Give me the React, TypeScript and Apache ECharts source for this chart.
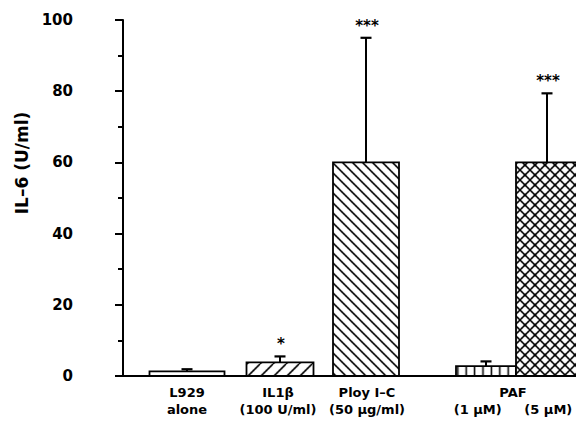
import React, { useEffect, useRef } from "react";
import * as echarts from "echarts";

// ---- data ----
const categories = ["L929 alone", "IL1β (100 U/ml)", "Ploy I–C (50 µg/ml)", "PAF (1 µM)", "PAF (5 µM)"];
const il6Mean = [1.3, 3.8, 60, 2.8, 60];
const il6Err = [0.6, 1.7, 35, 1.3, 19.4];
const significance = ["", "*", "***", "", "***"];
const axisLabelTexts = ["L929\nalone", "IL1β\n(100 U/ml)", "Ploy I–C\n(50 µg/ml)", "PAF\n(1 µM)     (5 µM)"];

// ---- layout (x-axis units) ----
const barCenters = [6.4, 15.7, 24.3, 36.3, 42.4];
const barWidths = [7.5, 6.7, 6.6, 6.0, 6.2];
const labelCenters = [6.4, 15.5, 24.4, 39.0];
const hatchKinds = ["none", "/", "\\", "|", "x"];
const hatchPeriods = [10, 13, 10, 8.4, 10];

const FONT = "'DejaVu Sans', sans-serif";

function makePattern(kind: string, p: number, lw: number): any {
  if (kind === "none") return "#fff";
  const s = 3;
  const c = document.createElement("canvas");
  c.width = Math.round(p * s);
  c.height = Math.round(p * s);
  const ctx = c.getContext("2d")!;
  ctx.scale(c.width / p, c.height / p);
  ctx.fillStyle = "#fff";
  ctx.fillRect(0, 0, p, p);
  ctx.strokeStyle = "#000";
  ctx.lineWidth = lw;
  ctx.lineCap = "square";
  ctx.beginPath();
  if (kind === "/" || kind === "x") {
    for (const k of [-1, 0, 1]) {
      ctx.moveTo(k * p, p);
      ctx.lineTo(k * p + p, 0);
    }
  }
  if (kind === "\\" || kind === "x") {
    for (const k of [-1, 0, 1]) {
      ctx.moveTo(k * p, 0);
      ctx.lineTo(k * p + p, p);
    }
  }
  if (kind === "|") {
    ctx.moveTo(p / 2, -1);
    ctx.lineTo(p / 2, p + 1);
  }
  ctx.stroke();
  return { image: c, repeat: "repeat", imageWidth: p, imageHeight: p };
}

export default function App() {
  const ref = useRef<HTMLDivElement>(null);

  useEffect(() => {
    if (!ref.current) return;
    const chart = echarts.init(ref.current, null, { renderer: "svg" });
    const patterns = hatchKinds.map((k, i) => makePattern(k, hatchPeriods[i], 1.6));
    const data = categories.map((name, i) => ({
      name,
      value: [barCenters[i], barWidths[i], il6Mean[i], il6Err[i]],
    }));

    chart.setOption({
      animation: false,
      backgroundColor: "#fff",
      grid: { left: 123, right: -37, top: 20, bottom: 47, outerBoundsMode: "none", containLabel: false },
      xAxis: {
        type: "value",
        min: 0,
        max: 49,
        axisLine: { show: true, lineStyle: { color: "#000", width: 2 } },
        axisTick: { show: false },
        splitLine: { show: false },
        axisLabel: {
          customValues: labelCenters,
          hideOverlap: false,
          formatter: (v: number) => {
            const idx = labelCenters.indexOf(v);
            return idx >= 0 ? axisLabelTexts[idx] : "";
          },
          color: "#000",
          fontFamily: FONT,
          fontWeight: "bold",
          fontSize: 13,
          lineHeight: 17,
          margin: 8,
        },
      },
      yAxis: {
        type: "value",
        min: 0,
        max: 100,
        interval: 20,
        offset: 32,
        axisLine: { show: true, lineStyle: { color: "#000", width: 2 } },
        axisTick: { show: true, length: 8, lineStyle: { color: "#000", width: 2 } },
        minorTick: { show: true, splitNumber: 2, length: 5, lineStyle: { color: "#000", width: 2 } },
        splitLine: { show: false },
        minorSplitLine: { show: false },
        axisLabel: {
          color: "#000",
          fontFamily: FONT,
          fontWeight: "bold",
          fontSize: 15,
          margin: 18,
        },
      },
      graphic: [
        {
          type: "text",
          x: 22,
          y: 163,
          rotation: Math.PI / 2,
          style: {
            text: "IL–6 (U/ml)",
            font: `bold 17px ${FONT}`,
            fill: "#000",
            align: "center",
            verticalAlign: "middle",
          },
        },
      ],
      series: [
        {
          type: "custom",
          encode: { x: 0, y: 2 },
          data,
          renderItem: (params: any, api: any) => {
            const i = params.dataIndex;
            const cx = api.value(0);
            const w = api.value(1);
            const v = api.value(2);
            const e = api.value(3);
            const bl = api.coord([cx - w / 2, 0]);
            const tr = api.coord([cx + w / 2, v]);
            const mid = api.coord([cx, v]);
            const et = api.coord([cx, v + e]);
            const children: any[] = [
              {
                type: "rect",
                shape: { x: bl[0], y: tr[1], width: tr[0] - bl[0], height: bl[1] - tr[1] },
                style: { fill: patterns[i], stroke: "#000", lineWidth: 1.8 },
              },
              {
                type: "line",
                shape: { x1: mid[0], y1: mid[1], x2: mid[0], y2: et[1] },
                style: { stroke: "#000", lineWidth: 2 },
              },
              {
                type: "line",
                shape: { x1: mid[0] - 5.5, y1: et[1], x2: mid[0] + 5.5, y2: et[1] },
                style: { stroke: "#000", lineWidth: 2.2 },
              },
            ];
            if (significance[i]) {
              children.push({
                type: "text",
                x: mid[0] + 1,
                y: et[1] - 12,
                style: {
                  text: significance[i],
                  font: `bold 15px ${FONT}`,
                  fill: "#000",
                  align: "center",
                  verticalAlign: "middle",
                },
              });
            }
            return { type: "group", children };
          },
        },
      ],
    });

    return () => chart.dispose();
  }, []);

  return (
    <div
      ref={ref}
      style={{ position: "absolute", left: 0, top: 0, width: 576, height: 423 }}
    />
  );
}
